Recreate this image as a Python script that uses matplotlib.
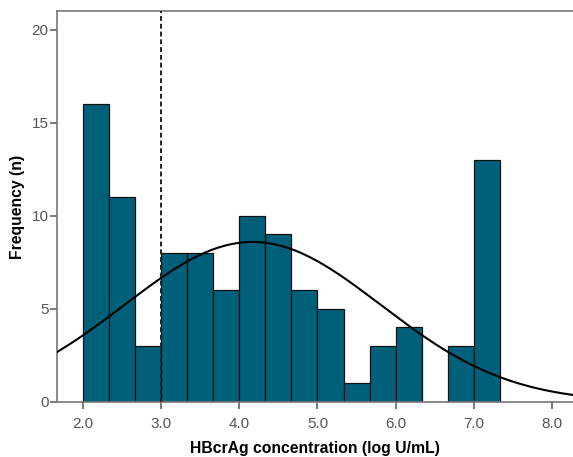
import numpy as np
import matplotlib
matplotlib.use("Agg")
import matplotlib.pyplot as plt

# Histogram counts (bin width 1/3 log U/mL, starting at 2.0)
bin_start = 2.0
bin_width = 1 / 3
counts = [16, 11, 3, 8, 8, 6, 10, 9, 6, 5, 1, 3, 4, 0, 3, 13]

# Fitted normal curve parameters
fit_mean = 4.17
fit_sd = 1.64
cutoff = 3.0

x_ticks = [2.0, 3.0, 4.0, 5.0, 6.0, 7.0, 8.0]
y_ticks = [0, 5, 10, 15, 20]

plt.rcParams["font.family"] = ["Liberation Sans", "DejaVu Sans"]

fig = plt.figure(figsize=(5.73, 4.57), dpi=100)
ax = fig.add_axes([0.0995, 0.1204, 0.9005, 0.8556])

edges = bin_start + bin_width * np.arange(len(counts))
ax.bar(edges, counts, width=bin_width, align="edge", color="#00607a",
       edgecolor="#111111", linewidth=0.9, zorder=2)

xs = np.linspace(1.6, 8.4, 400)
n = sum(counts)
ys = n * bin_width / (fit_sd * np.sqrt(2 * np.pi)) * np.exp(-0.5 * ((xs - fit_mean) / fit_sd) ** 2)
ax.plot(xs, ys, color="black", linewidth=1.5, zorder=3)

ax.axvline(cutoff, color="#222222", linestyle=(0, (2.5, 1.5)), linewidth=1.4, zorder=4)

ax.set_xlim(1.667, 8.27)
ax.set_ylim(0, 21.0)
ax.set_xticks(x_ticks)
ax.set_xticklabels([f"{t:.1f}" for t in x_ticks])
ax.set_yticks(y_ticks)

for side in ["left", "bottom", "top"]:
    ax.spines[side].set_color("#777777")
    ax.spines[side].set_linewidth(1.2)
ax.spines["right"].set_visible(False)

ax.tick_params(axis="both", colors="#555555", labelsize=11, length=5,
               width=1.1, labelcolor="#555555")
ax.tick_params(axis="x", pad=6)
ax.tick_params(axis="y", pad=1)

ax.set_xlabel("HBcrAg concentration (log U/mL)", fontsize=11.3, fontweight="bold",
              labelpad=7)
ax.set_ylabel("Frequency (n)", fontsize=11.3, fontweight="bold", labelpad=5)

fig.savefig("out.png", dpi=100)
